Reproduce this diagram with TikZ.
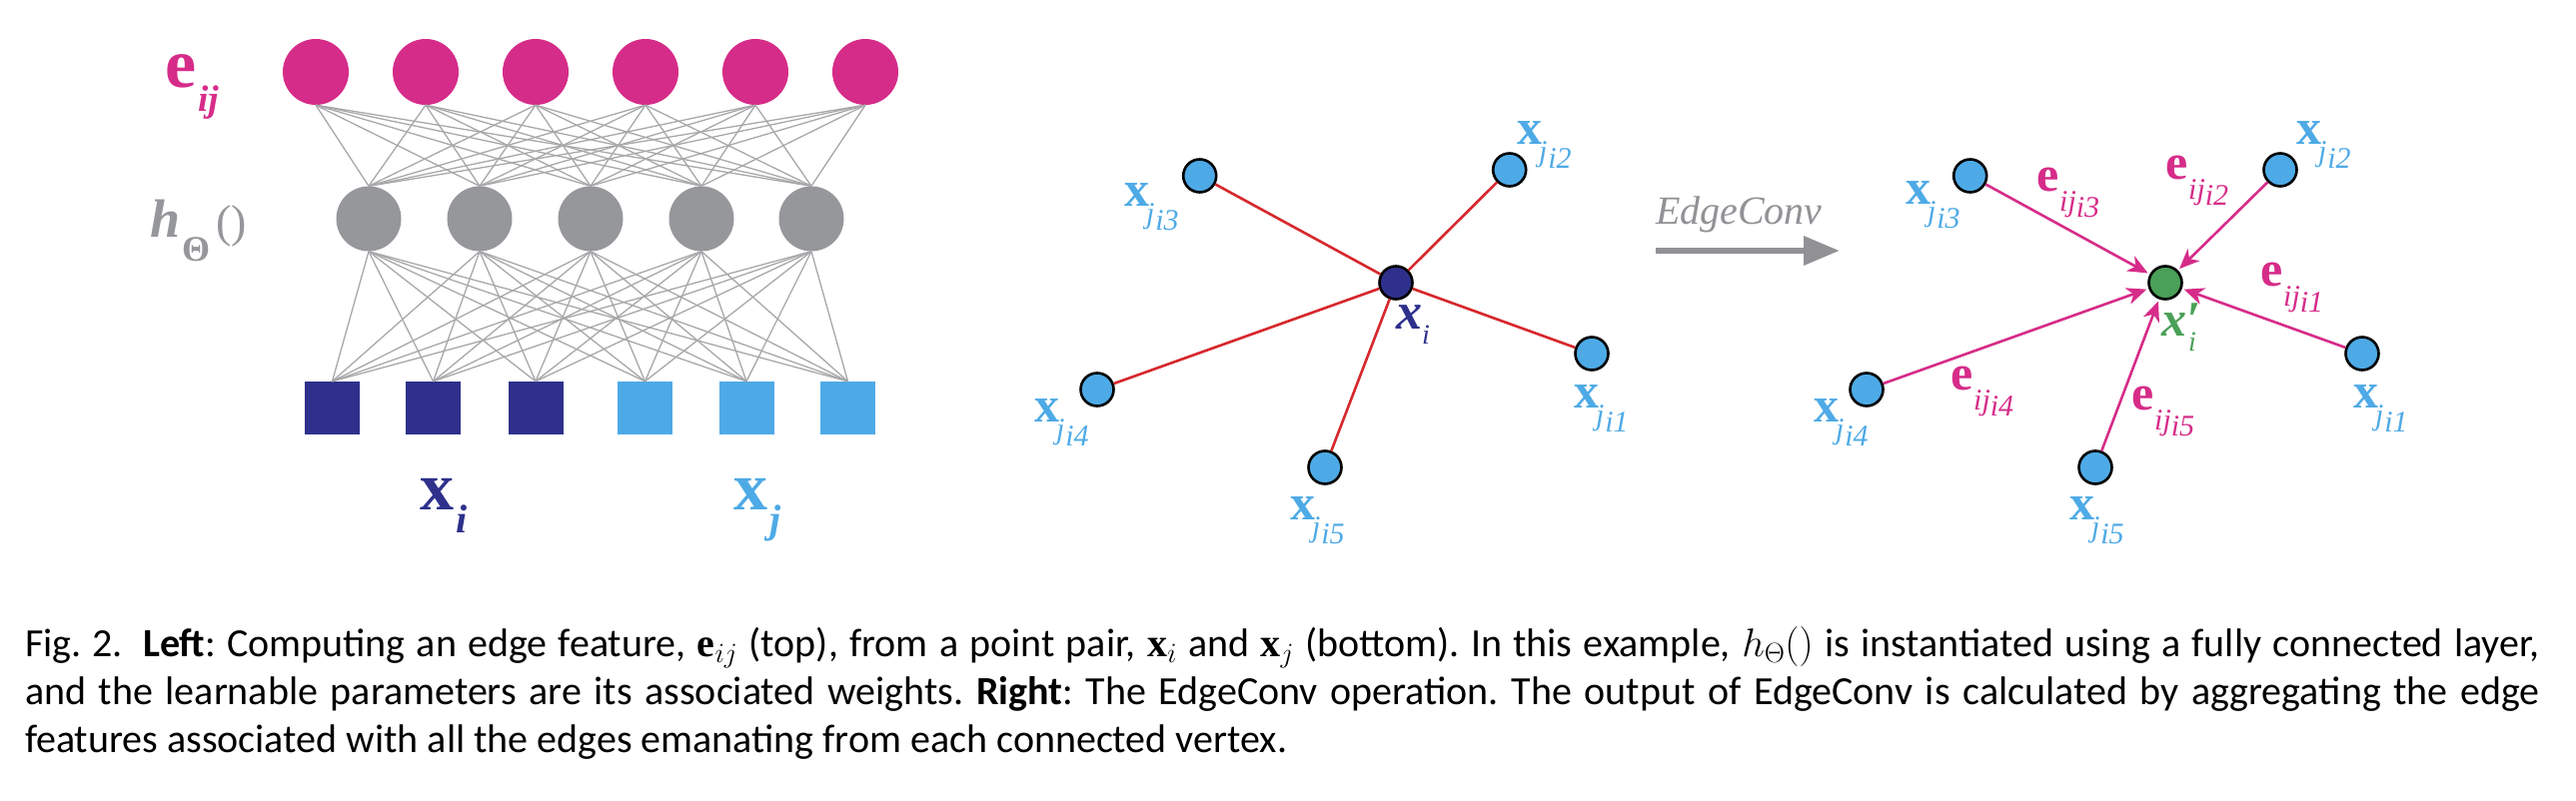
\RequirePackage{fix-cm}
\documentclass[tikz,border=0pt]{standalone}
\usepackage{fontspec}
\setmainfont{Liberation Serif}
\newfontfamily\capfont{Carlito}
\usetikzlibrary{arrows.meta}
\frenchspacing
\definecolor{epink}{RGB}{214,44,137}
\definecolor{hgray}{RGB}{150,151,155}
\definecolor{lgray}{RGB}{168,168,170}
\definecolor{dblue}{RGB}{46,48,140}
\definecolor{lblue}{RGB}{78,170,230}
\definecolor{ered}{RGB}{214,40,45}
\definecolor{xgreen}{RGB}{74,160,88}
\definecolor{egray}{RGB}{145,145,150}
\newcommand{\fs}[1]{\fontsize{#1pt}{#1pt}\selectfont}
\newcommand{\xn}[1]{{\fs{50}\bfseries x}\kern-3pt\raisebox{-17pt}{\fs{30}\itshape j}\kern1pt\raisebox{-24pt}{\fs{30}\itshape #1}}
\newcommand{\en}[1]{{\fs{50}\bfseries e}\kern1pt\raisebox{-20pt}{\fs{30}\itshape ij}\raisebox{-26pt}{\fs{30}\itshape #1}}
\begin{document}
\begin{tikzpicture}[x=1pt,y=-1pt,
  pinkdot/.style={circle,fill=epink,minimum size=66pt,inner sep=0pt},
  graydot/.style={circle,fill=hgray,minimum size=65pt,inner sep=0pt},
  sqi/.style={rectangle,fill=dblue,minimum width=55pt,minimum height=53pt,inner sep=0pt},
  sqj/.style={sqi,fill=lblue},
  wire/.style={draw=lgray,line width=1.3pt},
  nbr/.style={circle,draw=black,line width=2.6pt,fill=lblue,minimum size=33pt,inner sep=0pt},
  ctr/.style={nbr,fill=dblue},
  outn/.style={nbr,fill=xgreen},
  redge/.style={draw=ered,line width=2.6pt},
  pedge/.style={draw=epink,line width=2.6pt,-{Stealth[length=20pt,width=17pt,inset=6pt]},shorten >=2pt},
  lab/.style={anchor=base west,inner sep=0pt,outer sep=0pt},
  captext/.style={lab,font=\capfont\fs{40}}]
\useasboundingbox (0,0) rectangle (2578,802);
% left network
\foreach \i/\x in {1/316,2/426,3/536,4/646,5/756,6/866} \node[pinkdot] (p\i) at (\x,72) {};
\foreach \i/\x in {1/369,2/480,3/591,4/702,5/812} \node[graydot] (g\i) at (\x,219) {};
\foreach \i/\x in {1/332.5,2/433.5,3/536} \node[sqi] (s\i) at (\x,408.5) {};
\foreach \i/\x in {4/645.5,5/747,6/848.5} \node[sqj] (s\i) at (\x,408.5) {};
\foreach \i in {1,...,6} \foreach \k in {1,...,5} \draw[wire] (p\i.south) -- (g\k.north);
\foreach \k in {1,...,5} \foreach \i in {1,...,6} \draw[wire] (g\k.south) -- (s\i.north);
\node[lab,text=epink] (eij) at (165,88) {\fs{70}\bfseries e\kern2pt\raisebox{-24pt}{\fs{37}\bfseries\itshape ij}};
\node[lab,text=hgray] (hth) at (150,238) {{\fs{54}\bfseries\itshape h}\kern2pt\raisebox{-24pt}{\fs{36}\bfseries Θ}\kern6pt{\fs{46}()}};
\node[lab,text=dblue] (xil) at (420,510) {{\fs{68}\bfseries x}\kern2pt\raisebox{-23pt}{\fs{40}\bfseries\itshape i}};
\node[lab,text=lblue] (xjl) at (734,510) {{\fs{68}\bfseries x}\kern2pt\raisebox{-23pt}{\fs{40}\bfseries\itshape j}};
% middle graph
\node[ctr] (c) at (1397,283) {};
\node[nbr] (a1) at (1593,354) {};
\node[nbr] (a2) at (1510.7,170) {};
\node[nbr] (a3) at (1200.7,176) {};
\node[nbr] (a4) at (1098,390) {};
\node[nbr] (a5) at (1326,468) {};
\foreach \k in {1,...,5} \draw[redge] (c) -- (a\k);
\node[lab,text=lblue] (la1) at (1575,408) {\xn{i1}};
\node[lab,text=lblue] (la2) at (1518,145) {\xn{i2}};
\node[lab,text=lblue] (la3) at (1125,207) {\xn{i3}};
\node[lab,text=lblue] (la4) at (1035,422) {\xn{i4}};
\node[lab,text=lblue] (la5) at (1291,520) {\xn{i5}};
\node[lab,text=dblue] (lc) at (1397,330) {{\fs{52}\bfseries\itshape x}\raisebox{-15pt}{\fs{28}\itshape i}};
% EdgeConv arrow
\node[lab,text=egray] (ecl) at (1657,225) {\fs{40}\itshape EdgeConv};
\coordinate (ecs) at (1657,251);
\coordinate (ece) at (1841,251);
\draw[draw=egray,line width=6.5pt,-{Triangle[length=36pt,width=28pt]}] (ecs) -- (ece);
% right graph
\node[outn] (o) at (2167,283) {};
\node[nbr] (b1) at (2364,354) {};
\node[nbr] (b2) at (2282,170) {};
\node[nbr] (b3) at (1971.7,176) {};
\node[nbr] (b4) at (1868,390) {};
\node[nbr] (b5) at (2097,468) {};
\foreach \k in {1,...,5} \draw[pedge] (b\k) -- (o);
\node[lab,text=lblue] (lb1) at (2355,408) {\xn{i1}};
\node[lab,text=lblue] (lb2) at (2298,145) {\xn{i2}};
\node[lab,text=lblue] (lb3) at (1907,205) {\xn{i3}};
\node[lab,text=lblue] (lb4) at (1815,422) {\xn{i4}};
\node[lab,text=lblue] (lb5) at (2071,520) {\xn{i5}};
\node[lab,text=epink] (le1) at (2262,287) {\en{i1}};
\node[lab,text=epink] (le2) at (2167,180) {\en{i2}};
\node[lab,text=epink] (le3) at (2038,192) {\en{i3}};
\node[lab,text=epink] (le4) at (1952,390) {\en{i4}};
\node[lab,text=epink] (le5) at (2133,410) {\en{i5}};
\node[lab,text=xgreen] (lo) at (2163,336) {{\fs{50}\bfseries\itshape x\rlap{′}}\kern2pt\raisebox{-16pt}{\fs{28}\itshape i}};
% caption
\node[captext] (cap1) at (25,657) {\hbox to 2517pt{Fig.~2.\hspace{0.5em}\textbf{Left}: Computing an edge feature, $\mathbf{e}_{ij}$ (top), from a point pair, $\mathbf{x}_i$ and $\mathbf{x}_j$ (bottom). In this example, $h_\Theta()$ is instantiated using a fully connected layer,}};
\node[captext] (cap2) at (25,705) {\hbox to 2517pt{and the learnable parameters are its associated weights. \textbf{Right}: The EdgeConv operation. The output of EdgeConv is calculated by aggregating the edge}};
\node[captext] (cap3) at (25,753) {features associated with all the edges emanating from each connected vertex.};
\end{tikzpicture}
\end{document}
